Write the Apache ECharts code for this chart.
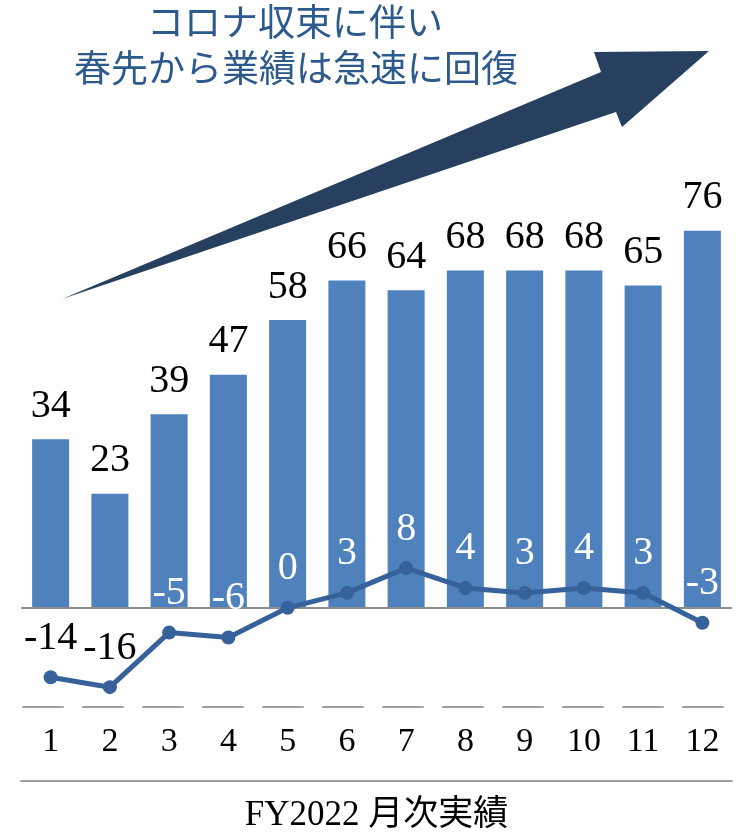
<!DOCTYPE html>
<html>
<head>
<meta charset="utf-8">
<script src="https://cdn.jsdelivr.net/npm/echarts@6/dist/echarts.min.js"></script>
<style>
html,body{margin:0;padding:0;background:#fff;}
#main{width:749px;height:833px;}
</style>
</head>
<body>
<div id="main"></div>
<script>
const categories = ['1','2','3','4','5','6','7','8','9','10','11','12'];
const salesValues = [34, 23, 39, 47, 58, 66, 64, 68, 68, 68, 65, 76];
const changeValues = [-14, -16, -5, -6, 0, 3, 8, 4, 3, 4, 3, -3];
const headlineLines = ['コロナ収束に伴い', '春先から業績は急速に回復'];
const axisTitle = 'FY2022 月次実績';

const serif = "'Liberation Serif', 'Times New Roman', 'Noto Sans CJK JP', serif";
const chart = echarts.init(document.getElementById('main'), null, {renderer: 'canvas'});

const option = {
  animation: false,
  backgroundColor: '#ffffff',
  grid: {left: 21, right: 17, top: 211, bottom: 126, containLabel: false, outerBoundsMode: 'none'},
  xAxis: [
    {
      type: 'category',
      data: categories,
      position: 'bottom',
      axisLine: {onZero: false, lineStyle: {color: '#a0a0a0', width: 2, type: [40, 20], dashOffset: -2}},
      axisTick: {show: false},
      axisLabel: {fontFamily: serif, fontSize: 34, color: '#000', margin: 18}
    },
    {
      type: 'category',
      data: categories,
      position: 'bottom',
      offset: 74,
      axisLine: {onZero: false, lineStyle: {color: '#a0a0a0', width: 2}},
      axisTick: {show: false},
      axisLabel: {show: false},
      name: axisTitle,
      nameLocation: 'middle',
      nameGap: 17,
      nameTextStyle: {fontFamily: serif, fontSize: 35, color: '#000'}
    }
  ],
  yAxis: {
    type: 'value', min: -20, max: 80, interval: 20, show: false,
    splitLine: {show: false}
  },
  graphic: [
    {
      type: 'polygon',
      z: 1,
      shape: {points: [[62, 299], [601, 72], [594, 52], [709, 51], [622, 127], [616, 112]]},
      style: {fill: '#27405f'}
    },
    {
      type: 'text', x: 295, y: 22,
      style: {text: headlineLines[0], font: "37px 'Noto Sans CJK JP'", fill: '#2d5a8c', align: 'center', verticalAlign: 'middle'}
    },
    {
      type: 'text', x: 296, y: 68,
      style: {text: headlineLines[1], font: "37px 'Noto Sans CJK JP'", fill: '#2d5a8c', align: 'center', verticalAlign: 'middle'}
    }
  ],
  series: [
    {
      type: 'bar',
      data: salesValues,
      barWidth: 37,
      itemStyle: {color: '#4f81bd'},
      label: {show: true, position: 'top', distance: 13, fontFamily: serif, fontSize: 40, color: '#000'},
      markLine: {
        silent: true,
        symbol: 'none',
        label: {show: false},
        lineStyle: {color: '#8c8c8c', width: 2, type: 'solid'},
        data: [{yAxis: 0}]
      },
      z: 2
    },
    {
      type: 'line',
      data: changeValues.map(v => ({
        value: v,
        label: {color: v <= -10 ? '#000' : '#fff'}
      })),
      symbol: 'circle',
      symbolSize: 14,
      lineStyle: {color: '#36619a', width: 5},
      itemStyle: {color: '#36619a'},
      label: {show: true, position: 'top', distance: 12, fontFamily: serif, fontSize: 40},
      z: 5
    }
  ]
};
chart.setOption(option);
</script>
</body>
</html>
